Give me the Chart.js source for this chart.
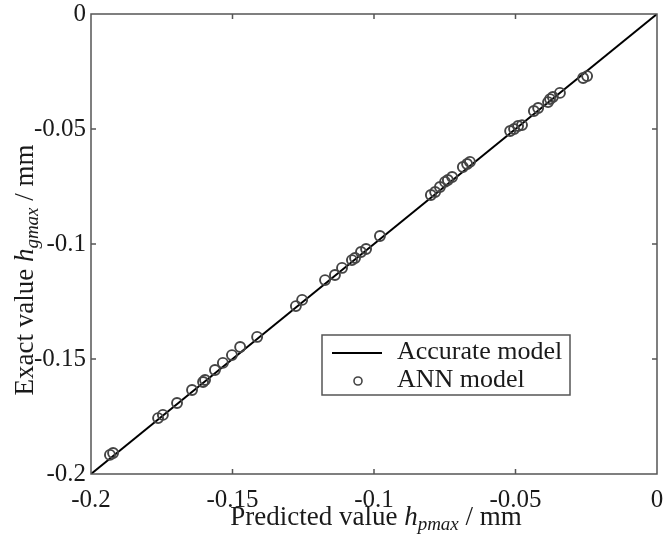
<!DOCTYPE html>
<html>
<head>
<meta charset="utf-8">
<script src="https://cdn.jsdelivr.net/npm/chart.js@4/dist/chart.umd.min.js"></script>
<style>
  html, body { margin: 0; padding: 0; background: #fff; }
  #wrap { width: 667px; height: 535px; }
</style>
</head>
<body>
<div id="wrap"><canvas id="c" width="667" height="535"></canvas></div>
<script>
// ---- data ----
const predicted = [-0.0247, -0.0261, -0.0343, -0.0368, -0.0378, -0.0385, -0.0420, -0.0435,
  -0.0477, -0.0491, -0.0505, -0.0519, -0.0661, -0.0671, -0.0686, -0.0724, -0.0739, -0.0749,
  -0.0767, -0.0784, -0.0799, -0.0979, -0.1028, -0.1046, -0.1067, -0.1078, -0.1113, -0.1138,
  -0.1173, -0.1254, -0.1276, -0.1413, -0.1473, -0.1502, -0.1534, -0.1562, -0.1597, -0.1604,
  -0.1643, -0.1696, -0.1746, -0.1763, -0.1922, -0.1933];
const exact = [-0.0270, -0.0278, -0.0343, -0.0361, -0.0370, -0.0383, -0.0409, -0.0422,
  -0.0483, -0.0487, -0.0500, -0.0509, -0.0643, -0.0652, -0.0665, -0.0709, -0.0722, -0.0730,
  -0.0752, -0.0774, -0.0787, -0.0965, -0.1022, -0.1035, -0.1061, -0.1070, -0.1104, -0.1135,
  -0.1157, -0.1243, -0.1270, -0.1404, -0.1448, -0.1483, -0.1517, -0.1548, -0.1591, -0.1600,
  -0.1635, -0.1691, -0.1743, -0.1757, -0.1909, -0.1917];
const accurateX = [-0.2, 0];
const accurateY = [-0.2, 0];
const xTicks = [-0.2, -0.15, -0.1, -0.05, 0];
const yTicks = [-0.2, -0.15, -0.1, -0.05, 0];
const xTickLabels = ['-0.2', '-0.15', '-0.1', '-0.05', '0'];
const yTickLabels = ['-0.2', '-0.15', '-0.1', '-0.05', '0'];
const seriesNames = ['Accurate model', 'ANN model'];

const SERIF = '"Liberation Serif", "Times New Roman", serif';
const TEXT = '#1a1a1a';
const FRAME = '#555555';
const MARK = '#444444';

function labelFor(list, labels, v) {
  const i = list.findIndex(t => Math.abs(t - v) < 1e-9);
  return i >= 0 ? labels[i] : '';
}

const framePlugin = {
  id: 'frame',
  afterDatasetsDraw(chart) {
    const { ctx, chartArea: a, scales } = chart;
    ctx.save();
    ctx.strokeStyle = FRAME;
    ctx.lineWidth = 1.5;
    ctx.strokeRect(a.left, a.top, a.right - a.left, a.bottom - a.top);
    const tl = 5;
    ctx.beginPath();
    xTicks.forEach(v => {
      const px = scales.x.getPixelForValue(v);
      if (px <= a.left + 1 || px >= a.right - 1) return;
      ctx.moveTo(px, a.bottom); ctx.lineTo(px, a.bottom - tl);
      ctx.moveTo(px, a.top); ctx.lineTo(px, a.top + tl);
    });
    yTicks.forEach(v => {
      const py = scales.y.getPixelForValue(v);
      if (py <= a.top + 1 || py >= a.bottom - 1) return;
      ctx.moveTo(a.left, py); ctx.lineTo(a.left + tl, py);
      ctx.moveTo(a.right, py); ctx.lineTo(a.right - tl, py);
    });
    ctx.stroke();
    ctx.restore();
  }
};

function drawMixed(ctx, parts, x, y, align) {
  let total = 0;
  parts.forEach(p => { ctx.font = p.font; p.w = ctx.measureText(p.t).width; total += p.w; });
  let cx = align === 'center' ? x - total / 2 : x;
  parts.forEach(p => {
    ctx.font = p.font;
    ctx.fillText(p.t, cx, y + (p.dy || 0));
    cx += p.w;
  });
}

const titlePlugin = {
  id: 'titles',
  afterDraw(chart) {
    const { ctx } = chart;
    ctx.save();
    ctx.fillStyle = TEXT;
    ctx.textBaseline = 'alphabetic';
    ctx.textAlign = 'left';
    const N = '27px ' + SERIF, I = 'italic 27px ' + SERIF, S = 'italic 19px ' + SERIF;
    drawMixed(ctx, [
      { t: 'Predicted value ', font: N },
      { t: 'h', font: I },
      { t: 'pmax', font: S, dy: 5 },
      { t: ' / mm', font: N }
    ], 376, 525, 'center');
    ctx.translate(33, 270);
    ctx.rotate(-Math.PI / 2);
    drawMixed(ctx, [
      { t: 'Exact value ', font: N },
      { t: 'h', font: I },
      { t: 'gmax', font: S, dy: 5 },
      { t: ' / mm', font: N }
    ], 0, 0, 'center');
    ctx.restore();

    // legend
    ctx.save();
    const bx = 322, by = 335, bw = 248, bh = 60;
    ctx.fillStyle = '#fff';
    ctx.fillRect(bx, by, bw, bh);
    ctx.strokeStyle = FRAME;
    ctx.lineWidth = 1.5;
    ctx.strokeRect(bx, by, bw, bh);
    ctx.strokeStyle = '#000';
    ctx.lineWidth = 2;
    ctx.beginPath(); ctx.moveTo(332, 353); ctx.lineTo(382, 353); ctx.stroke();
    ctx.strokeStyle = MARK;
    ctx.lineWidth = 1.6;
    ctx.beginPath(); ctx.arc(358, 381, 4, 0, Math.PI * 2); ctx.stroke();
    ctx.fillStyle = TEXT;
    ctx.font = '26px ' + SERIF;
    ctx.textBaseline = 'alphabetic';
    ctx.fillText(seriesNames[0], 397, 359);
    ctx.fillText(seriesNames[1], 397, 387);
    ctx.restore();
  }
};

new Chart(document.getElementById('c'), {
  type: 'scatter',
  data: {
    datasets: [
      {
        type: 'line',
        label: seriesNames[0],
        data: accurateX.map((x, i) => ({ x, y: accurateY[i] })),
        borderColor: '#000',
        borderWidth: 2,
        pointRadius: 0,
        fill: false,
        order: 2
      },
      {
        type: 'scatter',
        label: seriesNames[1],
        data: predicted.map((x, i) => ({ x, y: exact[i] })),
        pointStyle: 'circle',
        pointRadius: 5,
        borderColor: MARK,
        backgroundColor: 'rgba(0,0,0,0)',
        borderWidth: 1.9,
        order: 1
      }
    ]
  },
  options: {
    responsive: false,
    animation: false,
    devicePixelRatio: 1,
    layout: { padding: { top: 14, right: 10, left: 0, bottom: 0 } },
    plugins: { legend: { display: false }, tooltip: { enabled: false } },
    scales: {
      x: {
        type: 'linear', min: -0.2, max: 0,
        afterBuildTicks: s => { s.ticks = xTicks.map(v => ({ value: v })); },
        afterFit: s => { s.height = 61; s.paddingLeft = 0; s.paddingRight = 0; },
        grid: { display: false, drawTicks: false },
        border: { display: false },
        ticks: {
          padding: 11, color: TEXT, maxRotation: 0, autoSkip: false,
          font: { family: SERIF, size: 25 },
          callback: v => labelFor(xTicks, xTickLabels, v)
        }
      },
      y: {
        type: 'linear', min: -0.2, max: 0,
        afterBuildTicks: s => { s.ticks = yTicks.map(v => ({ value: v })); },
        afterFit: s => { s.width = 91; s.paddingTop = 0; s.paddingBottom = 0; },
        grid: { display: false, drawTicks: false },
        border: { display: false },
        ticks: {
          padding: 5, color: TEXT, autoSkip: false,
          font: { family: SERIF, size: 25 },
          callback: v => labelFor(yTicks, yTickLabels, v)
        }
      }
    }
  },
  plugins: [framePlugin, titlePlugin]
});
</script>
</body>
</html>
